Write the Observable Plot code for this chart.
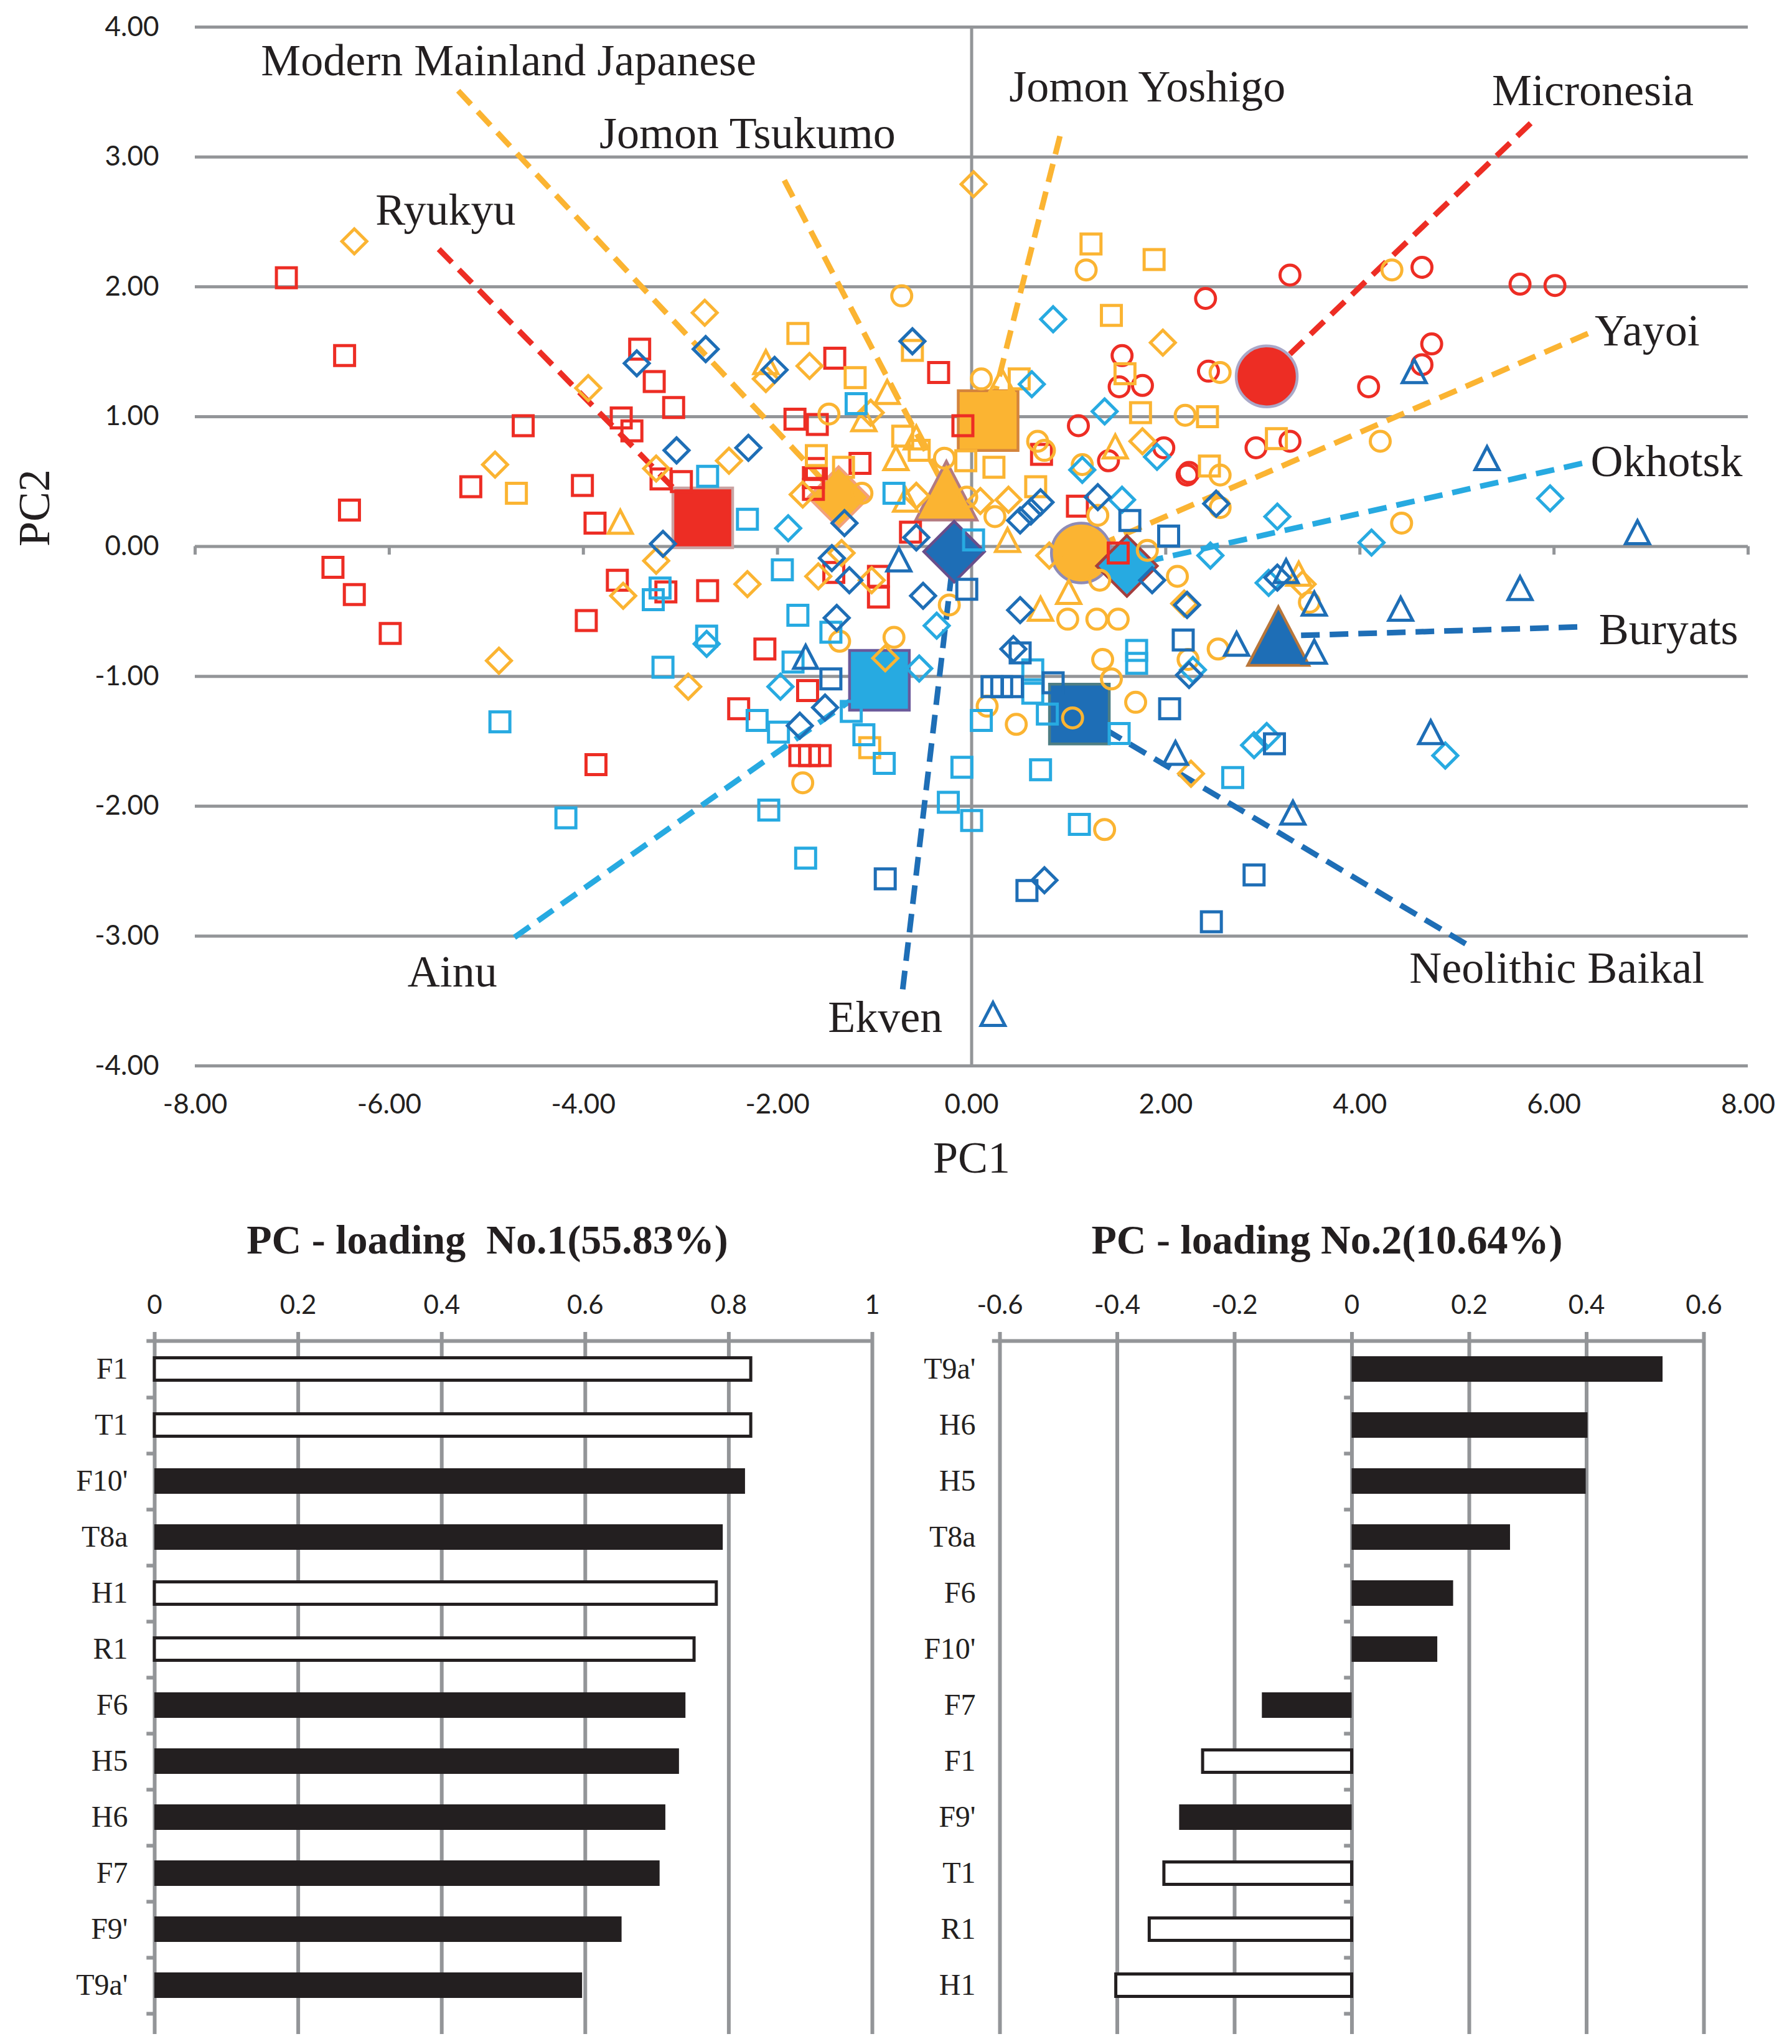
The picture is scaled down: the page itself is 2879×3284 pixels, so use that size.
<!DOCTYPE html>
<html><head><meta charset="utf-8">
<script src="https://cdn.jsdelivr.net/npm/d3@7"></script>
<script src="https://cdn.jsdelivr.net/npm/@observablehq/plot@0.6"></script>
<style>
html,body{margin:0;padding:0;background:#fff;}
#page{position:relative;width:2879px;height:3284px;overflow:hidden;background:#fff;}
#top{position:absolute;left:0;top:0;}
#left{position:absolute;left:0;top:1900px;}
#right{position:absolute;left:1440px;top:1900px;}
</style></head>
<body><div id="page"><div id="top"></div><div id="left"></div><div id="right"></div></div>
<script>
// ---------------- DATA ----------------
const xTicks = [-8,-6,-4,-2,0,2,4,6,8];
const yTicks = [-4,-3,-2,-1,0,1,2,3,4];

const groupNames = ["Ryukyu","Micronesia","Modern Mainland Japanese","Jomon Tsukumo","Jomon Yoshigo","Yayoi","Ainu","Okhotsk","Ekven","Neolithic Baikal","Buryats"];

const ryukyu = [[-7.06,2.07],[-6.46,1.47],[-3.42,1.52],[-3.27,1.27],[-3.07,1.07],[-4.62,0.93],[-3.61,0.99],[-3.50,0.89],
 [-5.16,0.46],[-4.01,0.47],[-3.20,0.52],[-2.99,0.50],[-6.41,0.28],[-3.88,0.18],
 [-1.41,1.45],[-0.34,1.34],[-1.82,0.98],[-1.59,0.94],[-0.09,0.93],[0.72,0.71],[-1.15,0.64],[-1.60,0.60],
 [-1.63,0.53],[-1.63,0.44],[1.09,0.31],[-0.63,0.11],[1.51,-0.05],
 [-6.58,-0.16],[-6.36,-0.37],[-5.99,-0.67],[-3.65,-0.26],[-3.15,-0.35],[-2.72,-0.34],[-3.97,-0.57],[-3.87,-1.68],
 [-1.42,-0.20],[-0.96,-0.23],[-0.96,-0.39],[-2.13,-0.79],[-1.69,-1.11],[-2.40,-1.25],[-1.77,-1.61],[-1.67,-1.61],[-1.56,-1.61]];
const micronesia = [[1.55,1.47],[1.52,1.23],[1.76,1.24],[1.10,0.93],[1.98,0.76],[1.41,0.66],
 [3.28,2.09],[4.64,2.15],[5.65,2.02],[6.01,2.01],[2.41,1.91],[4.74,1.56],[4.64,1.40],[2.44,1.35],[4.09,1.23],
 [3.28,0.81],[2.93,0.76],[2.24,0.57],[2.22,0.55]];
const mainland = [[-6.36,2.35],[-2.75,1.80],[-3.95,1.22],[-4.91,0.63],[-3.25,0.60],
 [0.02,2.79],[1.97,1.57],[-1.67,1.39],[-2.12,1.29],[-1.04,1.03],[1.76,0.81],[-2.50,0.66],[-1.74,0.40],[-0.57,0.39],[0.09,0.35],[0.38,0.36],
 [-3.25,-0.11],[-3.59,-0.38],[-4.87,-0.88],[-2.92,-1.08],
 [-1.34,-0.05],[-2.31,-0.29],[-1.58,-0.23],[-1.03,-0.26],[-0.89,-0.86],[2.26,-1.75],[2.19,-0.44],[0.80,-0.07],[3.41,-0.29]];
const tsukumo = [[-3.62,0.19],[-2.12,1.42],[0.31,1.28],[-0.87,1.19],[-1.11,0.98],[-0.57,0.84],[-0.78,0.68],[1.48,0.77],
 [-0.68,0.36],[0.37,0.05],[0.71,-0.48],[1.00,-0.35],[3.37,-0.21]];
const yoshigo = [[-4.69,0.41],[1.23,2.33],[1.88,2.21],[1.44,1.78],[-1.79,1.64],[-0.61,1.51],[-1.20,1.30],[1.58,1.33],[0.49,1.29],
 [1.74,1.03],[-0.71,0.85],[-0.54,0.74],[-0.06,0.66],[0.23,0.61],[-1.60,0.70],[-1.32,0.61],[0.66,0.46],
 [2.43,1.00],[3.14,0.83],[2.45,0.62],[-1.05,-1.55]];
const yayoi = [[1.18,2.13],[-0.72,1.93],[0.10,1.29],[-1.47,1.02],[0.68,0.81],[0.75,0.74],[-0.28,0.68],[1.14,0.63],[-1.13,0.41],
 [-0.05,0.38],[0.24,0.23],[1.30,0.24],[1.81,-0.03],
 [4.33,2.13],[2.56,1.34],[2.20,1.01],[4.21,0.81],[2.56,0.55],[2.56,0.30],[4.43,0.18],
 [2.12,-0.23],[-0.23,-0.45],[-1.36,-0.73],[-0.80,-0.70],[-1.74,-1.82],[0.16,-1.23],[0.46,-1.37],[0.99,-0.56],[1.29,-0.56],
 [1.51,-0.56],[1.04,-1.32],[1.35,-0.87],[1.44,-1.02],[1.69,-1.20],[2.23,-0.87],[1.37,-2.18],[1.32,-0.26],
 [3.48,-0.43],[2.54,-0.79]];
const ainu = [[-2.72,0.54],[-1.19,1.10],[-0.80,0.41],[0.02,0.05],[-2.31,0.21],
 [-3.21,-0.32],[-3.28,-0.41],[-2.73,-0.69],[-3.18,-0.93],[-4.86,-1.35],[-4.18,-2.09],
 [-1.95,-0.18],[-1.79,-0.53],[-1.45,-0.66],[-1.84,-0.89],[-2.21,-1.34],[-1.99,-1.43],[-1.24,-1.27],[-1.11,-1.45],
 [-0.90,-1.67],[-2.09,-2.03],[-1.71,-2.40],[-0.10,-1.70],[-0.24,-1.97],[0.00,-2.11],[0.10,-1.34],[0.63,-0.95],
 [0.63,-1.13],[0.78,-1.29],[1.70,-0.80],[1.70,-0.90],[1.52,-1.44],[0.71,-1.72],[1.11,-2.14],[2.69,-1.78]];
const okhotsk = [[0.84,1.75],[0.62,1.25],[1.37,1.04],[1.91,0.69],[1.14,0.59],[1.55,0.36],[-1.89,0.14],
 [3.15,0.23],[5.96,0.37],[4.12,0.03],[-2.73,-0.75],[-0.36,-0.61],[-0.54,-0.94],[-1.97,-1.08],[2.28,-0.95],
 [2.46,-0.07],[3.06,-0.28],[2.91,-1.53],[3.04,-1.46],[4.88,-1.61]];
const ekven = [[-2.74,1.52],[-3.45,1.41],[-3.04,0.74],[-3.18,0.02],
 [-0.61,1.58],[-2.03,1.36],[-2.30,0.76],[0.50,0.20],[0.61,0.27],[0.71,0.34],[1.30,0.38],[-0.57,0.07],[-1.31,0.18],
 [2.52,0.33],[-1.44,-0.09],[-1.26,-0.26],[-0.50,-0.38],[-1.39,-0.55],[-1.77,-1.38],[-1.51,-1.24],[0.43,-0.79],
 [0.50,-0.49],[2.24,-0.99],[0.75,-2.57],[2.22,-0.45],[1.86,-0.26],[3.15,-0.24]];
const baikal = [[1.63,0.20],[2.03,0.08],[-0.05,-0.33],[-1.45,-1.02],[-0.89,-2.56],[0.21,-1.08],[0.31,-1.08],[0.42,-1.08],
 [0.84,-1.05],[0.50,-0.82],[2.18,-0.72],[2.04,-1.25],[0.57,-2.65],[3.12,-1.52],[2.91,-2.53],[2.47,-2.89]];
const buryats = [[4.56,1.35],[5.31,0.68],[6.86,0.11],[-0.75,-0.10],[-1.71,-0.85],[2.10,-1.59],
 [3.24,-0.19],[3.53,-0.44],[2.73,-0.75],[3.53,-0.81],[4.42,-0.48],[5.65,-0.32],[4.73,-1.43],[3.31,-2.05],[0.22,-3.60]];

const groupPoints = [ryukyu, micronesia, mainland, tsukumo, yoshigo, yayoi, ainu, okhotsk, ekven, baikal, buryats];
const groupMeans = [[-2.77,0.22],[3.04,1.31],[-1.37,0.38],[-0.26,0.43],[0.17,0.97],[1.13,-0.05],[-0.95,-1.03],[1.60,-0.15],[-0.18,-0.04],[1.11,-1.29],[3.16,-0.69]];
const labelCenters = [[-5.42,2.59],[6.40,3.51],[-4.77,3.74],[-2.31,3.18],[1.81,3.54],[6.96,1.66],[-5.35,-3.28],[7.16,0.65],[-0.89,-3.63],[6.03,-3.25],[7.18,-0.64]];
const lineStarts = [[-5.49,2.29],[5.76,3.26],[-5.29,3.51],[-1.93,2.82],[0.91,3.16],[6.35,1.64],[-4.71,-3.01],[6.29,0.64],[-0.71,-3.41],[5.09,-3.06],[6.24,-0.62]];

const load1Cats = ["F1","T1","F10'","T8a","H1","R1","F6","H5","H6","F7","F9'","T9a'"];
const load1Vals = [0.831,0.831,0.823,0.792,0.783,0.752,0.740,0.731,0.712,0.704,0.651,0.596];
const load1Hollow = [true,true,false,false,true,true,false,false,false,false,false,false];
const load1Ticks = [0,0.2,0.4,0.6,0.8,1];

const load2Cats = ["T9a'","H6","H5","T8a","F6","F10'","F7","F1","F9'","T1","R1","H1"];
const load2Vals = [0.530,0.402,0.399,0.270,0.173,0.146,-0.153,-0.254,-0.294,-0.320,-0.345,-0.402];
const load2Hollow = [false,false,false,false,false,false,false,true,false,true,true,true];
const load2Ticks = [-0.6,-0.4,-0.2,0,0.2,0.4,0.6];

// ---------------- STYLE ----------------
const RED = "#ED2D24", ORANGE = "#FBB432", LBLUE = "#27AAE1", DBLUE = "#1E6EB6";
const GRID = "#939598", INK = "#231F20";
const SERIF = "'Liberation Serif','Times New Roman',serif";
const SANS = "Lato, 'Open Sans', sans-serif";

const shapes = {
  square: {draw(c, s){ const r = Math.sqrt(s/Math.PI); c.moveTo(-r,-r); c.lineTo(r,-r); c.lineTo(r,r); c.lineTo(-r,r); c.closePath(); }},
  circle: {draw(c, s){ const r = Math.sqrt(s/Math.PI); c.moveTo(r,0); c.arc(0,0,r,0,2*Math.PI); }},
  diamond: {draw(c, s){ const r = Math.sqrt(s/Math.PI)*1.25; c.moveTo(0,-r); c.lineTo(r,0); c.lineTo(0,r); c.lineTo(-r,0); c.closePath(); }},
  triangle: {draw(c, s){ const r = Math.sqrt(s/Math.PI); c.moveTo(0,-1.15*r); c.lineTo(1.2*r,1.15*r); c.lineTo(-1.2*r,1.15*r); c.closePath(); }}
};
const groupStyle = {
  "Ryukyu": {color: RED, shape: "square", outline: "#C9A3A3", meanR: 48},
  "Micronesia": {color: RED, shape: "circle", outline: "#A9A8C8", meanR: 49},
  "Modern Mainland Japanese": {color: ORANGE, shape: "diamond", outline: "#F3A07A", meanR: 39},
  "Jomon Tsukumo": {color: ORANGE, shape: "triangle", outline: "#B37A80", meanR: 41},
  "Jomon Yoshigo": {color: ORANGE, shape: "square", outline: "#D4843C", meanR: 48},
  "Yayoi": {color: ORANGE, shape: "circle", outline: "#8E8BB6", meanR: 48},
  "Ainu": {color: LBLUE, shape: "square", outline: "#6B5A9B", meanR: 48},
  "Okhotsk": {color: LBLUE, shape: "diamond", outline: "#A43E3E", meanR: 39},
  "Ekven": {color: DBLUE, shape: "diamond", outline: "#6A4E8A", meanR: 39},
  "Neolithic Baikal": {color: DBLUE, shape: "square", outline: "#4E7E84", meanR: 48},
  "Buryats": {color: DBLUE, shape: "triangle", outline: "#B8763A", meanR: 41}
};

// ---------------- SCATTER ----------------
const links = groupNames.map((g,i) => ({g, x1: lineStarts[i][0], y1: lineStarts[i][1], x2: groupMeans[i][0], y2: groupMeans[i][1], color: groupStyle[g].color}));
const labels = groupNames.map((g,i) => ({g, x: labelCenters[i][0], y: labelCenters[i][1]}));

const meanMarks = groupNames.map((g,i) => {
  const st = groupStyle[g];
  return Plot.dot([groupMeans[i]], {x: d => d[0], y: d => d[1], symbol: shapes[st.shape], r: st.meanR,
    fill: st.color, stroke: st.outline, strokeWidth: 4.5});
});
const pointMarks = groupNames.map((g,i) => {
  const st = groupStyle[g];
  return Plot.dot(groupPoints[i], {x: d => d[0], y: d => d[1], symbol: shapes[st.shape], r: 16,
    fill: "none", stroke: st.color, strokeWidth: 5});
});

const scatter = Plot.plot({
  width: 2879, height: 1900,
  marginLeft: 313, marginRight: 71, marginTop: 43, marginBottom: 188,
  x: {domain: [-8, 8]}, y: {domain: [-4, 4]},
  style: {background: "white", fontFamily: SANS},
  marks: [
    Plot.ruleY(yTicks, {stroke: GRID, strokeWidth: 5}),
    Plot.ruleX([0], {stroke: GRID, strokeWidth: 5}),
    Plot.ruleX(xTicks, {y1: 0, y2: -0.065, stroke: GRID, strokeWidth: 5}),
    Plot.axisY(yTicks, {anchor: "left", tickSize: 0, tickPadding: 58, tickFormat: d => d.toFixed(2), fontSize: 44, fontFamily: SANS, fill: INK, label: null}),
    Plot.axisX(xTicks, {anchor: "bottom", tickSize: 0, tickPadding: 45, tickFormat: d => d.toFixed(2), fontSize: 44, fontFamily: SANS, fill: INK, label: null}),
    Plot.text(["PC1"], {frameAnchor: "bottom", dy: 148, fontSize: 72, fontFamily: SERIF, fill: INK, lineAnchor: "middle"}),
    Plot.text(["PC2"], {frameAnchor: "left", dx: -258, rotate: -90, fontSize: 72, fontFamily: SERIF, fill: INK, lineAnchor: "middle"}),
    Plot.link(links, {x1: "x1", y1: "y1", x2: "x2", y2: "y2", stroke: "color", strokeWidth: 9, strokeDasharray: "30,16"}),
    ...meanMarks,
    ...pointMarks,
    Plot.text(labels, {x: "x", y: "y", text: "g", fontSize: 72, fontFamily: SERIF, fill: INK, lineAnchor: "middle"})
  ]
});
document.getElementById("top").appendChild(scatter);

// ---------------- BAR CHARTS ----------------
function loadingChart(cats, vals, hollow, ticks, title, o) {
  const data = cats.map((c,i) => ({cat: c, v: vals[i], hollow: hollow[i]}));
  const H = 1384, mt = 250, mb = 44;
  const step = (H - mt - mb) / cats.length;
  const x0 = ticks[0], x1 = ticks[ticks.length - 1];
  return Plot.plot({
    width: o.width, height: H, marginLeft: o.ml, marginRight: o.mr, marginTop: mt, marginBottom: mb,
    x: {domain: [x0, x1]},
    y: {domain: cats, paddingInner: 0.54, paddingOuter: 0.27},
    style: {background: "white", fontFamily: SANS},
    marks: [
      Plot.ruleX(ticks, {stroke: GRID, strokeWidth: 6, insetTop: -10, insetBottom: -28}),
      Plot.ruleY([cats[0]], {y: d => d, x1: x0 - o.tick, x2: x1, dy: -step/2, stroke: GRID, strokeWidth: 6}),
      Plot.ruleY(cats, {y: d => d, x1: 0, x2: -o.tick, dy: step/2, stroke: GRID, strokeWidth: 6}),
      Plot.barX(data.filter(d => !d.hollow), {x1: 0, x2: "v", y: "cat", fill: INK}),
      Plot.barX(data.filter(d => d.hollow), {x1: 0, x2: "v", y: "cat", fill: "white", stroke: INK, strokeWidth: 5, insetTop: 2.5, insetBottom: 2.5}),
      Plot.axisX(ticks, {anchor: "top", tickSize: 0, tickPadding: 40, tickFormat: d => String(Math.round(d*10)/10), fontSize: 42, fontFamily: SANS, fill: INK, label: null}),
      Plot.axisY({anchor: "left", tickSize: 0, tickPadding: o.pad, fontSize: 48, fontFamily: SERIF, fill: INK, label: null}),
      Plot.text([title], {frameAnchor: "top", dx: o.tdx, dy: -158, fontSize: 66, fontWeight: "bold", fontFamily: SERIF, fill: INK, lineAnchor: "middle"})
    ]
  });
}
document.getElementById("left").appendChild(
  loadingChart(load1Cats, load1Vals, load1Hollow, load1Ticks, "PC - loading\u00a0 No.1(55.83%)", {width: 1440, ml: 248, mr: 39, pad: 43, tdx: -42, tick: 0.011}));
document.getElementById("right").appendChild(
  loadingChart(load2Cats, load2Vals, load2Hollow, load2Ticks, "PC - loading No.2(10.64%)", {width: 1439, ml: 166, mr: 142, pad: 39, tdx: -40, tick: 0.013}));
</script>
</body></html>
